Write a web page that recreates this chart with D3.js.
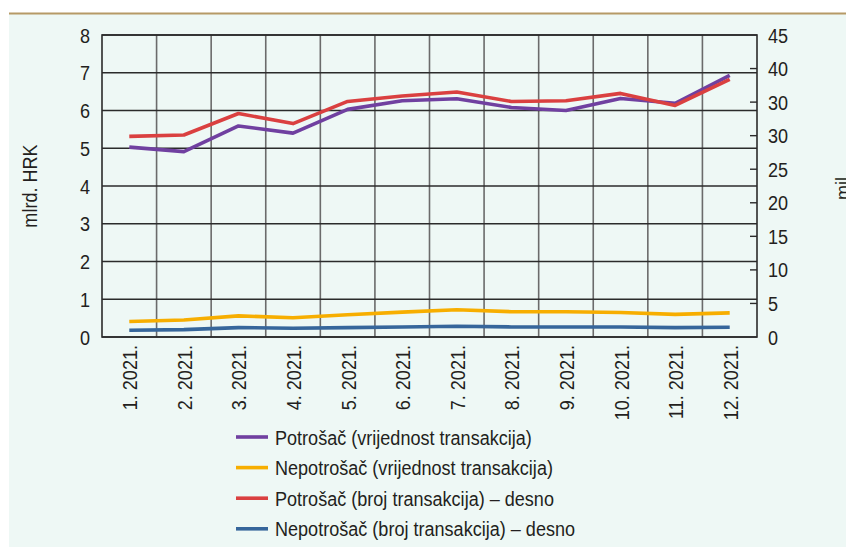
<!DOCTYPE html>
<html>
<head>
<meta charset="utf-8">
<script src="https://cdn.jsdelivr.net/npm/d3@7"></script>
<style>
  body { margin: 0; background: #fff; }
  svg text { font-family: "Liberation Sans", Arial, sans-serif; fill: #231f20; }
</style>
</head>
<body>
<figure style="margin:0"></figure>
<script>
const months = ['1. 2021.', '2. 2021.', '3. 2021.', '4. 2021.', '5. 2021.', '6. 2021.',
                '7. 2021.', '8. 2021.', '9. 2021.', '10. 2021.', '11. 2021.', '12. 2021.']

// left axis, mlrd. HRK
const potrosacVrijednost    = [5.03, 4.91, 5.59, 5.40, 6.03, 6.26, 6.31, 6.08, 6.00, 6.32, 6.19, 6.93]
const nepotrosacVrijednost  = [0.41, 0.45, 0.56, 0.51, 0.59, 0.66, 0.72, 0.67, 0.67, 0.65, 0.60, 0.64]
// right axis, mil.
const potrosacBroj          = [29.9, 30.1, 33.3, 31.8, 35.1, 35.9, 36.5, 35.1, 35.2, 36.3, 34.5, 38.4]
const nepotrosacBroj        = [1.0, 1.1, 1.4, 1.3, 1.4, 1.5, 1.6, 1.5, 1.5, 1.5, 1.4, 1.45]

const leftTicks  = [0, 1, 2, 3, 4, 5, 6, 7, 8]
const rightTicks = [0, 5, 10, 15, 20, 25, 30, 35, 40, 45]
// labels as printed in the source (the 35 tick reads "30")
const rightTickLabels = ['0', '5', '10', '15', '20', '25', '30', '30', '40', '45']

const seriesNames = ['Potrošač (vrijednost transakcija)', 'Nepotrošač (vrijednost transakcija)',
                     'Potrošač (broj transakcija) – desno', 'Nepotrošač (broj transakcija) – desno']

const W = 846, H = 547
const margin = {top: 35, right: 89, bottom: 210, left: 102},
      width  = W - margin.left - margin.right,
      height = H - margin.top - margin.bottom,
      fs = 21,          // font size
      narrow = 0.86     // squeeze Liberation Sans into a narrow face

const svg = d3.select('figure').append('svg')
    .attr('width', W).attr('height', H)

// panel background and top rule
svg.append('rect').attr('x', 9).attr('y', 13).attr('width', W - 9).attr('height', H - 13).attr('fill', '#eef8f5')
svg.append('line').attr('x1', 9).attr('x2', W).attr('y1', 13.5).attr('y2', 13.5)
    .attr('stroke', '#b69a66').attr('stroke-width', 2)

const g = svg.append('g').attr('transform', `translate(${margin.left},${margin.top})`)

const x = d3.scaleBand().domain(months).range([0, width])
const yL = d3.scaleLinear().domain([0, 8]).range([height, 0])
const yR = d3.scaleLinear().domain([0, 45]).range([height, 0])
const cx = d => x(d) + x.bandwidth() / 2

// narrow text helper: placed at (px,py), optional rotation
function label(sel, px, py, rot, anchor, txt) {
  return sel.append('text')
      .attr('transform', `translate(${px},${py})` + (rot ? ` rotate(${rot})` : '') + ` scale(${narrow},1)`)
      .attr('text-anchor', anchor)
      .attr('dy', rot ? null : '0.36em')
      .attr('font-size', fs)
      .text(txt)
}

// vertical grid at band edges
g.append('g').selectAll('line')
  .data(months.slice(1))
  .join('line')
    .attr('x1', d => x(d)).attr('x2', d => x(d))
    .attr('y1', 0).attr('y2', height)
    .attr('stroke', '#6b6b6b').attr('stroke-width', 1.6)

// horizontal grid from left axis
g.append('g').selectAll('line')
  .data(leftTicks)
  .join('line')
    .attr('x1', 0).attr('x2', width)
    .attr('y1', d => yL(d)).attr('y2', d => yL(d))
    .attr('stroke', '#2b2b2b').attr('stroke-width', 1.4)

// frame
g.append('rect').attr('width', width).attr('height', height)
    .attr('fill', 'none').attr('stroke', '#2b2b2b').attr('stroke-width', 1.6)

// left axis labels
const leftAxis = g.append('g')
leftTicks.forEach(d => label(leftAxis, -12, yL(d), 0, 'end', d3.format('d')(d)))

// right axis: inner ticks + labels
const rightAxis = g.append('g').attr('transform', `translate(${width},0)`)
rightAxis.selectAll('line')
  .data(rightTicks.slice(1, -1))
  .join('line')
    .attr('x1', -7).attr('x2', 0)
    .attr('y1', d => yR(d)).attr('y2', d => yR(d))
    .attr('stroke', '#2b2b2b').attr('stroke-width', 1.4)
rightTicks.forEach((d, i) => label(rightAxis, 11, yR(d), 0, 'start', rightTickLabels[i]))

// x labels, rotated
const xAxis = g.append('g')
months.forEach(d => label(xAxis, cx(d) + 8, height + 8, -90, 'end', d))

// axis titles
label(svg, 37, margin.top + height / 2, -90, 'middle', 'mlrd. HRK')
label(svg, 850, margin.top + height / 2, -90, 'middle', 'mil.')

const series = [
  {name: seriesNames[0], values: potrosacVrijednost,   y: yL, color: '#7040a0'},
  {name: seriesNames[1], values: nepotrosacVrijednost, y: yL, color: '#f7ae00'},
  {name: seriesNames[2], values: potrosacBroj,         y: yR, color: '#da4040'},
  {name: seriesNames[3], values: nepotrosacBroj,       y: yR, color: '#36669b'}
]

// draw order: blue, orange, purple, red on top
const drawOrder = [3, 1, 0, 2]
drawOrder.forEach(i => {
  const s = series[i]
  const line = d3.line()
      .x((d, j) => cx(months[j]))
      .y(d => s.y(d))
  g.append('path')
      .datum(s.values)
      .attr('d', line)
      .attr('fill', 'none')
      .attr('stroke', s.color)
      .attr('stroke-width', 3.6)
      .attr('stroke-linejoin', 'round')
})

// legend
const legend = svg.append('g').attr('transform', 'translate(236,437)')
series.forEach((s, i) => {
  const row = legend.append('g').attr('transform', `translate(0,${i * 30.6})`)
  row.append('line')
      .attr('x1', 0).attr('x2', 32)
      .attr('stroke', s.color).attr('stroke-width', 3.6)
  label(row, 39, 0, 0, 'start', s.name)
})
</script>
</body>
</html>
